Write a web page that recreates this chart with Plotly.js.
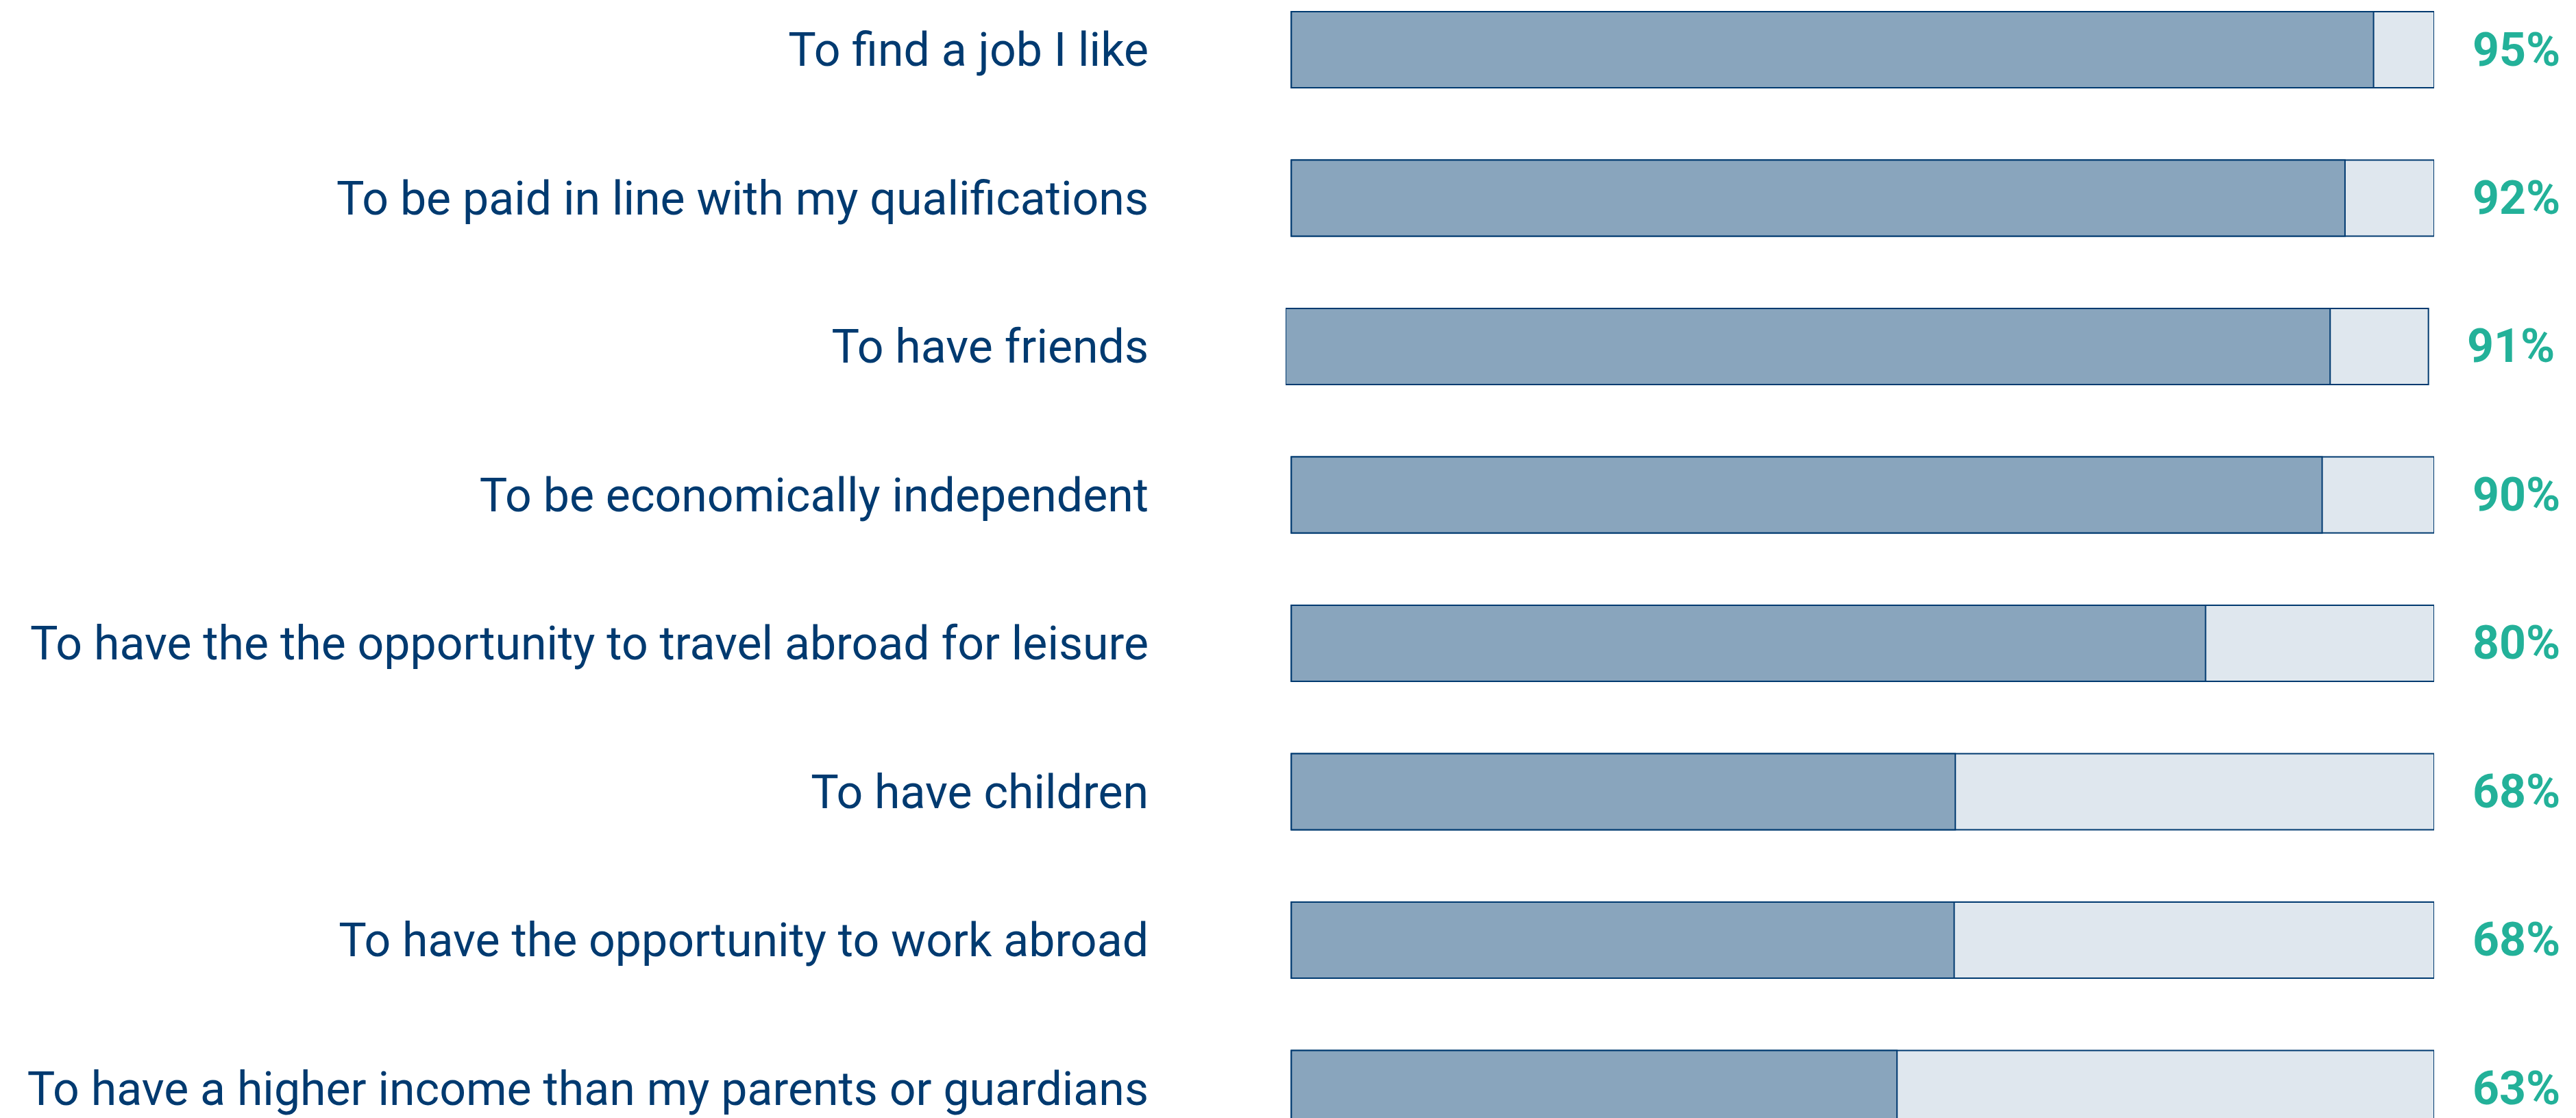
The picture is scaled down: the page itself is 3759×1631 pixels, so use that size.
<!DOCTYPE html>
<html>
<head>
<meta charset="utf-8">
<script src="https://cdn.plot.ly/plotly-3.0.1.min.js"></script>
<style>html,body{margin:0;padding:0;background:#fff;}#chart{width:3759px;height:1631px;}</style>
</head>
<body>
<div id="chart"></div>
<script>
// Categories (top to bottom)
const categories = [
  "To find a job I like",
  "To be paid in line with my qualifications",
  "To have friends",
  "To be economically independent",
  "To have the the opportunity to travel abroad for leisure",
  "To have children",
  "To have the opportunity to work abroad",
  "To have a higher income than my parents or guardians"
];
// Filled bar lengths as drawn (% of full bar)
const filledValues = [94.7, 92.2, 91.4, 90.2, 80.0, 58.1, 58.0, 53.0];
// Full bar (100%)
const totalValues = [100, 100, 100, 100, 100, 100, 100, 100];
// Bar start (row 3 is drawn slightly left in the original)
const barStart = [0, 0, -0.5, 0, 0, 0, 0, 0];
// Percent labels shown at the right
const percentLabels = ["95%", "92%", "91%", "90%", "80%", "68%", "68%", "63%"];

const NAVY = "#003A70";
const TEAL = "#23B199";
const FILL = "#89A5BD";
const BG = "#DFE7EE";

const bgTrace = {
  type: "bar", orientation: "h",
  y: categories, x: totalValues, base: barStart,
  width: 0.513,
  marker: {color: BG, line: {color: NAVY, width: 2}},
  hoverinfo: "skip", showlegend: false
};
const fillTrace = {
  type: "bar", orientation: "h",
  y: categories, x: filledValues, base: barStart,
  width: 0.513,
  marker: {color: FILL, line: {color: NAVY, width: 2}},
  hoverinfo: "skip", showlegend: false
};

const annotations = categories.map((c, i) => ({
  xref: "x", yref: "y",
  x: barStart[i] + totalValues[i], y: c,
  text: percentLabels[i],
  showarrow: false,
  xanchor: "left", yanchor: "middle",
  xshift: 54,
  font: {family: "Roboto", size: 68, color: TEAL, weight: 700}
}));

const layout = {
  width: 3759, height: 1631,
  margin: {l: 1876, r: 207, t: 0, b: 0, pad: 0},
  paper_bgcolor: "#ffffff", plot_bgcolor: "#ffffff",
  barmode: "overlay",
  showlegend: false,
  xaxis: {range: [-0.5, 100], visible: false, fixedrange: true},
  yaxis: {
    type: "category",
    categoryorder: "array", categoryarray: categories,
    range: [7.199, -0.335],
    showgrid: false, zeroline: false, showline: false,
    ticks: "", ticklabelstandoff: 199,
    tickfont: {family: "Roboto", size: 68, color: NAVY},
    automargin: false
  },
  annotations: annotations,
  font: {family: "Roboto"}
};

Plotly.newPlot("chart", [bgTrace, fillTrace], layout, {displayModeBar: false, staticPlot: true});
</script>
</body>
</html>
